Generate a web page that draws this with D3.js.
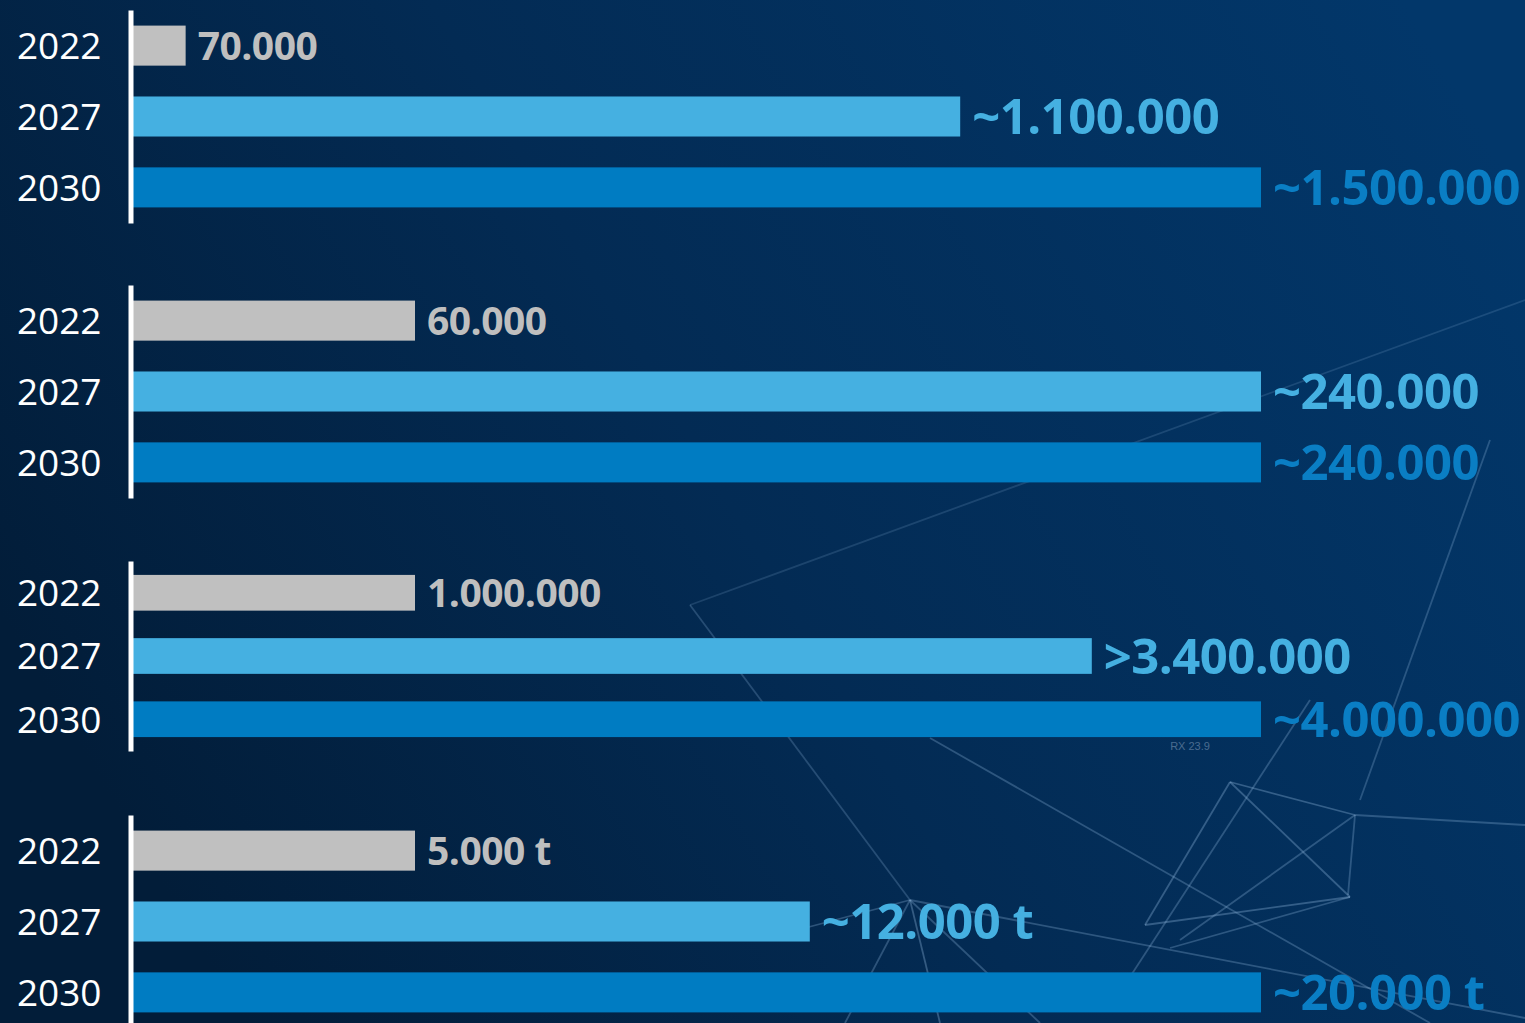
<!DOCTYPE html>
<html>
<head>
<meta charset="utf-8">
<script src="https://cdn.jsdelivr.net/npm/d3@7"></script>
<style>
  html, body { margin: 0; padding: 0; background: #03213d; overflow: hidden; }
  svg { display: block; }
</style>
</head>
<body>
<div class="graphic"></div>
<script>
// data
const years = ['2022', '2027', '2030'];

const valuesA = [70000, 1100000, 1500000];
const labelsA = ['70.000', '~1.100.000', '~1.500.000'];

const valuesB = [60000, 240000, 240000];
const labelsB = ['60.000', '~240.000', '~240.000'];

const valuesC = [1000000, 3400000, 4000000];
const labelsC = ['1.000.000', '>3.400.000', '~4.000.000'];

const valuesD = [5000, 12000, 20000];
const labelsD = ['5.000 t', '~12.000 t', '~20.000 t'];

// styling / layout
const width = 1525;
const height = 1023;
const groupRanges = [[10, 223], [285, 498], [561, 751], [815, 1028]];
const barColors = ['#c0c0c0', '#45b0e1', '#007cc2'];
const labelColors = ['#bfbfbf', '#45b0e1', '#0a7ec4'];
const labelSizes = [39, 49, 49];

// faint network decoration in the background
const decorLines = [
  [690, 605, 1525, 300, 0.18],
  [690, 605, 910, 900, 0.25],
  [910, 900, 940, 1023, 0.35],
  [910, 900, 845, 1023, 0.3],
  [910, 900, 790, 932, 0.3],
  [910, 900, 1525, 1018, 0.3],
  [910, 900, 1040, 1023, 0.3],
  [930, 738, 1430, 1023, 0.3],
  [1310, 700, 1115, 1000, 0.3],
  [1230, 782, 1145, 925, 0.35],
  [1145, 925, 1350, 897, 0.35],
  [1350, 897, 1230, 782, 0.35],
  [1230, 782, 1355, 815, 0.35],
  [1355, 815, 1525, 825, 0.3],
  [1355, 815, 1348, 895, 0.3],
  [1355, 815, 1180, 940, 0.3],
  [1350, 897, 1170, 948, 0.3],
  [1490, 440, 1360, 800, 0.28]
];

const groups = [
  { values: valuesA, labels: labelsA },
  { values: valuesB, labels: labelsB },
  { values: valuesC, labels: labelsC },
  { values: valuesD, labels: labelsD }
];

const svg = d3
  .select('.graphic')
  .append('svg')
  .attr('width', width)
  .attr('height', height);

const defs = svg.append('defs');
const grad = defs
  .append('linearGradient')
  .attr('id', 'bg')
  .attr('x1', '0%')
  .attr('y1', '60%')
  .attr('x2', '100%')
  .attr('y2', '20%');
grad.append('stop').attr('offset', '0%').attr('stop-color', '#021d39');
grad.append('stop').attr('offset', '45%').attr('stop-color', '#032b54');
grad.append('stop').attr('offset', '100%').attr('stop-color', '#02376a');

svg
  .append('rect')
  .attr('width', width)
  .attr('height', height)
  .attr('fill', 'url(#bg)');

svg
  .append('g')
  .attr('class', 'decor')
  .selectAll('line')
  .data(decorLines)
  .enter()
  .append('line')
  .attr('x1', d => d[0])
  .attr('y1', d => d[1])
  .attr('x2', d => d[2])
  .attr('y2', d => d[3])
  .attr('stroke', '#8fb6dc')
  .attr('stroke-width', 1.8)
  .attr('opacity', d => d[4]);

svg
  .append('text')
  .text('RX 23.9')
  .attr('x', 1190)
  .attr('y', 750)
  .attr('text-anchor', 'middle')
  .attr('font-family', 'Liberation Sans, sans-serif')
  .attr('font-size', 11)
  .attr('fill', '#8fa8c4')
  .attr('opacity', 0.5);

const x0 = 133;
const x1 = 1261;

groups.forEach((grp, gi) => {
  const rows = years.map((yr, i) => ({ year: yr, value: grp.values[i], label: grp.labels[i], idx: i }));

  const y = d3
    .scaleBand()
    .domain(years)
    .range(groupRanges[gi])
    .paddingInner(0.435)
    .paddingOuter(0.22);

  const x = d3
    .scaleLinear()
    .domain([0, d3.max(grp.values)])
    .range([x0, x1]);

  const g = svg.append('g').attr('class', 'group-' + gi);

  g.selectAll('rect')
    .data(rows)
    .enter()
    .append('rect')
    .attr('x', x(0))
    .attr('y', d => y(d.year))
    .attr('width', d => x(d.value) - x(0))
    .attr('height', y.bandwidth())
    .attr('fill', d => barColors[d.idx]);

  g.selectAll('text.value-label')
    .data(rows)
    .enter()
    .append('text')
    .attr('class', 'value-label')
    .text(d => d.label)
    .attr('x', d => x(d.value) + 12)
    .attr('y', d => y(d.year) + y.bandwidth() / 2)
    .attr('dy', '0.36em')
    .attr('font-family', 'Open Sans, sans-serif')
    .attr('font-weight', 700)
    .attr('font-size', d => labelSizes[d.idx])
    .attr('letter-spacing', '-0.5px')
    .attr('fill', d => labelColors[d.idx]);

  const axis = g
    .append('g')
    .attr('class', 'year-axis')
    .attr('transform', 'translate(130.5,0)')
    .call(d3.axisLeft(y).tickSize(0).tickSizeOuter(0).tickPadding(29));

  axis
    .select('.domain')
    .attr('stroke', '#ffffff')
    .attr('stroke-width', 5);

  axis
    .selectAll('.tick text')
    .attr('fill', '#ffffff')
    .attr('font-family', 'Open Sans, sans-serif')
    .attr('font-size', 37)
    .attr('dy', '0.36em');
});
</script>
</body>
</html>
